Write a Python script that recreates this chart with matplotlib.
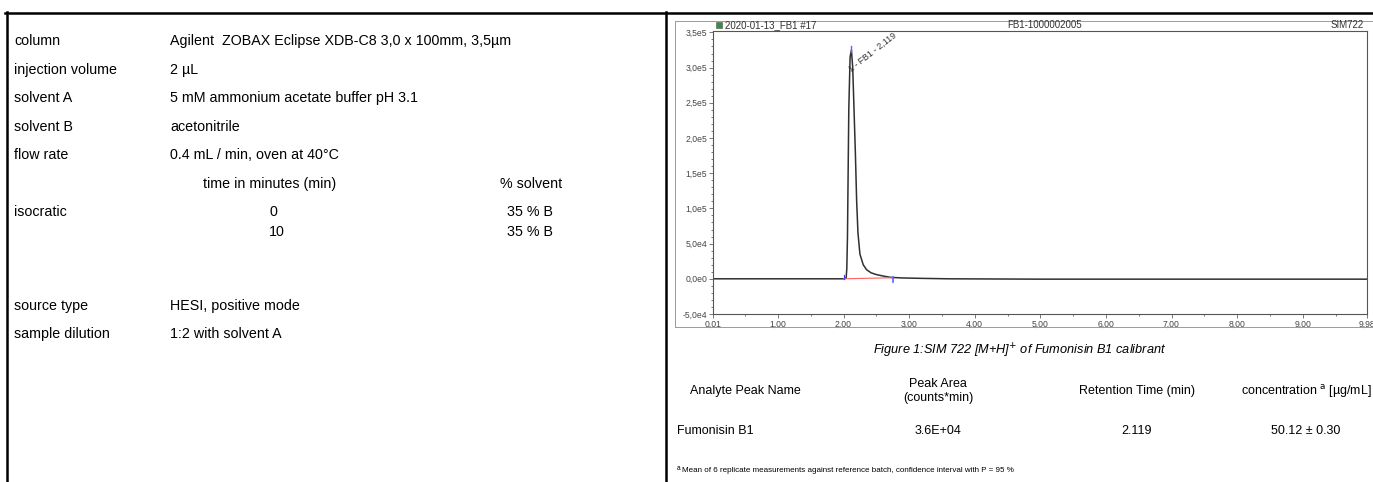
import matplotlib
matplotlib.use("Agg")
import matplotlib.pyplot as plt
from matplotlib.lines import Line2D
from matplotlib.patches import Rectangle
import numpy as np

plt.rcParams['font.family'] = ['Liberation Sans', 'DejaVu Sans']

W, H = 1373, 482

# ---------------- data ----------------
param_labels = ["column", "injection volume", "solvent A", "solvent B", "flow rate"]
param_values = ["Agilent  ZOBAX Eclipse XDB-C8 3,0 x 100mm, 3,5µm", "2 µL",
                "5 mM ammonium acetate buffer pH 3.1", "acetonitrile",
                "0.4 mL / min, oven at 40°C"]
gradient_header = ["time in minutes (min)", "% solvent"]
gradient_times = ["0", "10"]
gradient_solvent = ["35 % B", "35 % B"]
extra_labels = ["source type", "sample dilution"]
extra_values = ["HESI, positive mode", "1:2 with solvent A"]

time_min = [0.01, 1.00, 2.00, 2.04, 2.05, 2.06, 2.07, 2.08, 2.10, 2.12, 2.14,
            2.16, 2.18, 2.20, 2.22, 2.25, 2.30, 2.35, 2.42, 2.50, 2.60, 2.72,
            2.90, 3.20, 3.60, 5.00, 9.98]
intensity = [0, 0, 0, 1000, 15000, 60000, 150000, 240000, 315000, 325000, 300000,
             240000, 180000, 110000, 65000, 35000, 20000, 13000, 8500, 6000, 4000, 2000,
             1200, 600, 0, -500, -500]
peak_time = 2.119
peak_height = 330000
baseline_start, baseline_end = 2.00, 2.75

x_ticks = [0.01, 1, 2, 3, 4, 5, 6, 7, 8, 9, 9.98]
x_labels = ["0,01", "1,00", "2,00", "3,00", "4,00", "5,00", "6,00", "7,00", "8,00", "9,00", "9,98"]
y_ticks = [-50000, 0, 50000, 100000, 150000, 200000, 250000, 300000, 350000]
y_labels = ["-5,0e4", "0,0e0", "5,0e4", "1,0e5", "1,5e5", "2,0e5", "2,5e5", "3,0e5", "3,5e5"]

table_header = ["Analyte Peak Name", "Peak Area\n(counts*min)", "Retention Time (min)",
                "concentration $^{\\mathrm{a}}$ [µg/mL]"]
table_row = ["Fumonisin B1", "3.6E+04", "2.119", "50.12 ± 0.30"]
footnote = "Mean of 6 replicate measurements against reference batch, confidence interval with P = 95 %"

# ---------------- figure ----------------
fig = plt.figure(figsize=(W / 100, H / 100), dpi=100)


def fx(x):
    return x / W


def fy(y):
    return 1 - y / H


def txt(x, y, s, **kw):
    kw.setdefault("va", "center")
    kw.setdefault("ha", "left")
    fig.text(fx(x), fy(y), s, **kw)


# borders
for (x0, y0, x1, y1) in [(5, 12.5, 1373, 12.5), (6.5, 12, 6.5, 482), (665.5, 12, 665.5, 482)]:
    fig.add_artist(Line2D([fx(x0), fx(x1)], [fy(y0), fy(y1)], color="black", lw=1.8,
                          transform=fig.transFigure))

# left panel
fs_left = 10.3
row_y = [41, 70, 98, 127, 155]
for lab, val, y in zip(param_labels, param_values, row_y):
    txt(14, y, lab, fontsize=fs_left)
    txt(170, y, val, fontsize=fs_left)
txt(203, 184, gradient_header[0], fontsize=fs_left)
txt(500, 184, gradient_header[1], fontsize=fs_left)
txt(14, 212, "isocratic", fontsize=fs_left)
for t, s, y in zip(gradient_times, gradient_solvent, [212, 232]):
    txt(269, y, t, fontsize=fs_left)
    txt(507, y, s, fontsize=fs_left)
for lab, val, y in zip(extra_labels, extra_values, [306, 334]):
    txt(14, y, lab, fontsize=fs_left)
    txt(170, y, val, fontsize=fs_left)

# chromatogram outer frame
fig.add_artist(Rectangle((fx(675), fy(327)), fx(1373 - 675) + 0.002, (327 - 21) / H,
                         transform=fig.transFigure, fill=False, ec="#9a9a9a", lw=0.7))
fig.add_artist(Rectangle((fx(716), fy(28)), fx(6), 6 / H, transform=fig.transFigure,
                         fc="#3c8c3c", ec="#555555", lw=0.4))
hdr = dict(fontsize=7.0, color="#333333")
txt(725, 25.5, "2020-01-13_FB1 #17", **hdr)
txt(1007, 25.5, "FB1-1000002005", **hdr)
txt(1364, 25.5, "SIM722", ha="right", **hdr)

ax = fig.add_axes([fx(713), fy(314), fx(1367 - 713), (314 - 31) / H])
ax.plot(time_min, intensity, color="#303030", lw=1.1)
ax.plot([baseline_start, baseline_end], [0, 1500], color="#ff6060", lw=0.8)
ax.plot([baseline_start, baseline_start], [0, 5000], color="#4040ff", lw=0.9)
ax.plot([baseline_end, baseline_end], [-4000, 2000], color="#6060ff", lw=1.2)
ax.plot([peak_time, peak_time], [peak_height - 8000, peak_height], color="#6060ff", lw=1.0)
ax.text(2.135, 292000, "1 - FB1 - 2,119", rotation=38, fontsize=6.3, color="#333333",
        ha="left", va="bottom", rotation_mode="anchor")
ax.set_xlim(0.01, 9.98)
ax.set_ylim(-50000, 352000)
ax.set_xticks(x_ticks)
ax.set_xticklabels(x_labels)
ax.set_yticks(y_ticks)
ax.set_yticklabels(y_labels)
ax.set_xticks(np.arange(0.5, 9.98, 0.5), minor=True)
ax.set_yticks(np.arange(-50000, 350001, 10000), minor=True)
ax.tick_params(which="both", labelsize=6.2, labelcolor="#444444", color="#444444",
               direction="out", width=0.5, pad=1.2)
ax.tick_params(which="major", length=3)
ax.tick_params(which="minor", length=1.5)
for sp in ax.spines.values():
    sp.set_color("#555555")
    sp.set_linewidth(0.8)

# caption
txt(1020, 351, "Figure 1:SIM 722 [M+H]$^{+}$ of Fumonisin B1 calibrant", ha="center",
    fontsize=9.2, style="italic", math_fontfamily="dejavusans")

# table
fs_tab = 9.0
col_x = [745, 938, 1137, 1306]
for s, x in zip(table_header, col_x):
    txt(x, 391, s, ha="center", fontsize=fs_tab, linespacing=1.3)
txt(677, 431, table_row[0], fontsize=fs_tab)
for s, x in zip(table_row[1:], col_x[1:]):
    txt(x, 431, s, ha="center", fontsize=fs_tab)
txt(677, 468, "a", fontsize=4.8)
txt(682, 470, footnote, fontsize=5.8)

fig.savefig("out.png", dpi=100)
